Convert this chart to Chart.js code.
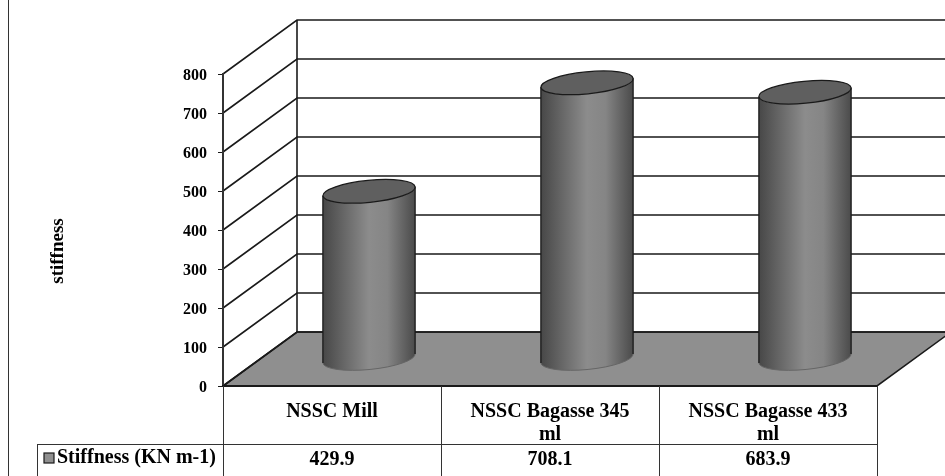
<!DOCTYPE html>
<html>
<head>
<meta charset="utf-8">
<style>
    html, body { margin: 0; padding: 0; background: #fff; overflow: hidden; }
    canvas { display: block; }
</style>
<script src="https://cdn.jsdelivr.net/npm/chart.js@4"></script>
</head>
<body>
<canvas id="stiffnessChart" width="945" height="476"></canvas>
<script>
const categories = [['NSSC Mill'], ['NSSC Bagasse 345', 'ml'], ['NSSC Bagasse 433', 'ml']];
const stiffness = [429.9, 708.1, 683.9];
const seriesName = 'Stiffness (KN m-1)';
const yTitle = 'stiffness';

const FONT = '"Liberation Serif", serif';
const depthX = 74;
const depthY = -54;

// walls, floor and the data table are not something chart.js has, so draw them here
const box3d = {
    id: 'box3d',
    beforeDraw(chart) {
        const { ctx, chartArea: area, scales: { y } } = chart;
        ctx.save();
        // floor
        ctx.fillStyle = '#8f8f8f';
        ctx.beginPath();
        ctx.moveTo(area.left, area.bottom);
        ctx.lineTo(area.right, area.bottom);
        ctx.lineTo(area.right + depthX, area.bottom + depthY);
        ctx.lineTo(area.left + depthX, area.bottom + depthY);
        ctx.closePath();
        ctx.fill();
        ctx.strokeStyle = '#1a1a1a';
        ctx.lineWidth = 1.6;
        ctx.stroke();
        // grid on side and back wall
        y.ticks.forEach(t => {
            const py = y.getPixelForValue(t.value);
            ctx.beginPath();
            ctx.moveTo(area.left, py);
            ctx.lineTo(area.left + depthX, py + depthY);
            ctx.lineTo(chart.width, py + depthY);
            ctx.stroke();
        });
        ctx.beginPath();
        ctx.moveTo(area.left + depthX, area.top + depthY);
        ctx.lineTo(area.left + depthX, area.bottom + depthY);
        ctx.stroke();
        ctx.restore();
    },
    afterDatasetsDraw(chart) {
        const { ctx } = chart;
        const rot = -5.6 * Math.PI / 180;
        const dx = depthX / 2;
        const dy = depthY / 2;
        chart.getDatasetMeta(0).data.forEach(bar => {
            const cx = bar.x + dx;
            const top = bar.y + dy;
            const base = bar.base + dy;
            const rx = bar.width / 2;
            const ry = 11;
            const offX = rx * Math.cos(rot);
            const offY = rx * Math.sin(rot);
            const grad = ctx.createLinearGradient(cx - rx, 0, cx + rx, 0);
            grad.addColorStop(0, '#474747');
            grad.addColorStop(0.5, '#8c8c8c');
            grad.addColorStop(0.7, '#858585');
            grad.addColorStop(1, '#4a4a4a');
            ctx.save();
            ctx.fillStyle = grad;
            ctx.beginPath();
            ctx.moveTo(cx - offX, top - offY);
            ctx.lineTo(cx - offX, base - offY);
            ctx.ellipse(cx, base, rx, ry, rot, Math.PI, 0, true);
            ctx.lineTo(cx + offX, top + offY);
            ctx.ellipse(cx, top, rx, ry, rot, 0, Math.PI, false);
            ctx.closePath();
            ctx.fill();
            // base edge is faint in the picture
            ctx.strokeStyle = '#666';
            ctx.lineWidth = 1;
            ctx.beginPath();
            ctx.ellipse(cx, base, rx, ry, rot, Math.PI, 0, true);
            ctx.stroke();
            ctx.strokeStyle = '#1a1a1a';
            ctx.lineWidth = 1.3;
            ctx.beginPath();
            ctx.moveTo(cx - offX, top - offY);
            ctx.lineTo(cx - offX, base - offY);
            ctx.moveTo(cx + offX, top + offY);
            ctx.lineTo(cx + offX, base + offY);
            ctx.stroke();
            ctx.fillStyle = '#5f5f5f';
            ctx.beginPath();
            ctx.ellipse(cx, top, rx, ry, rot, 0, Math.PI * 2);
            ctx.fill();
            ctx.stroke();
            ctx.restore();
        });
    },
    afterDraw(chart) {
        const { ctx, chartArea: area, scales: { x } } = chart;
        const rowY = 444;
        const tableLeft = 37;
        ctx.save();
        ctx.strokeStyle = '#333';
        ctx.lineWidth = 1;
        // page edge line
        ctx.beginPath();
        ctx.moveTo(8.5, 0);
        ctx.lineTo(8.5, chart.height);
        // table
        ctx.moveTo(tableLeft, rowY + 0.5);
        ctx.lineTo(area.right, rowY + 0.5);
        ctx.moveTo(tableLeft + 0.5, rowY);
        ctx.lineTo(tableLeft + 0.5, chart.height);
        const cellW = (area.right - area.left) / categories.length;
        for (let i = 0; i <= categories.length; i++) {
            const lx = Math.round(area.left + i * cellW) + 0.5;
            ctx.moveTo(lx, area.bottom);
            ctx.lineTo(lx, chart.height);
        }
        ctx.stroke();
        // legend key
        ctx.fillStyle = '#8f8f8f';
        ctx.strokeStyle = '#1a1a1a';
        ctx.lineWidth = 1.2;
        ctx.fillRect(44, 453, 10, 10);
        ctx.strokeRect(44, 453, 10, 10);
        ctx.fillStyle = '#000';
        ctx.font = 'bold 20px ' + FONT;
        ctx.textBaseline = 'middle';
        ctx.textAlign = 'left';
        ctx.fillText(seriesName, 57, 458);
        ctx.textAlign = 'center';
        stiffness.forEach((v, i) => {
            ctx.fillText(v.toFixed(1), x.getPixelForValue(i), 460);
        });
        // axis title sits lower than the plot centre
        ctx.font = 'bold 19px ' + FONT;
        ctx.translate(58, 251);
        ctx.rotate(-Math.PI / 2);
        ctx.fillText(yTitle, 0, 0);
        ctx.restore();
    }
};

new Chart(document.getElementById('stiffnessChart').getContext('2d'), {
    type: 'bar',
    data: {
        labels: categories,
        datasets: [
            {
                label: seriesName,
                data: stiffness,
                backgroundColor: 'rgba(0,0,0,0)',
                barPercentage: 0.425,
                categoryPercentage: 1
            }
        ]
    },
    options: {
        responsive: false,
        animation: false,
        layout: { padding: { top: 74, right: 68, left: 0, bottom: 0 } },
        plugins: {
            legend: { display: false },
            tooltip: { enabled: false }
        },
        scales: {
            y: {
                min: 0,
                max: 800,
                ticks: {
                    stepSize: 100,
                    color: '#000',
                    padding: 11,
                    labelOffset: 2,
                    font: { family: FONT, size: 16, weight: 'bold' }
                },
                grid: { drawOnChartArea: false, color: '#1a1a1a', tickLength: 5 },
                border: { color: '#333', width: 2 },
                afterFit: scale => { scale.width = 223; }
            },
            x: {
                ticks: {
                    color: '#000',
                    padding: 7,
                    maxRotation: 0,
                    autoSkip: false,
                    font: { family: FONT, size: 20, weight: 'bold', lineHeight: 1.13 }
                },
                grid: { display: false },
                border: { color: '#1a1a1a', width: 2 },
                afterFit: scale => { scale.height = 90; }
            }
        }
    },
    plugins: [box3d]
});
</script>
</body>
</html>
